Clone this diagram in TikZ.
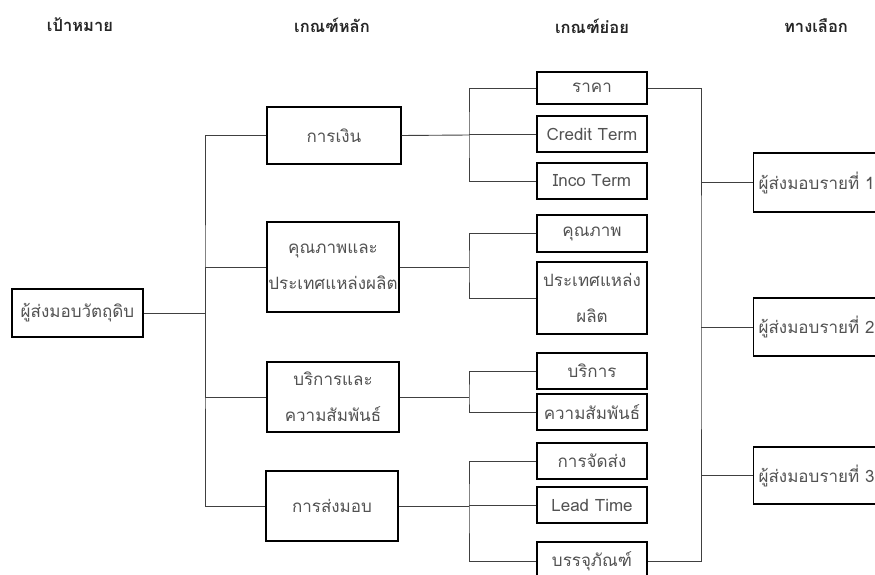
\documentclass[tikz,border=0pt]{standalone}
\usepackage{fontspec}
\setmainfont[Script=Thai]{Loma}
\begin{document}
\begin{tikzpicture}[x=1pt,y=-1pt,
  box/.style={draw=black, line width=1.3pt, text=black!68, inner sep=1pt, align=center,
    font=\fontsize{17}{36}\selectfont},
  head/.style={text=black!85, font=\bfseries\fontsize{16.5}{18}\selectfont},
  conn/.style={draw=black!75, line width=0.9pt}]
\useasboundingbox (0,0) rectangle (875,575);
\clip (0,0) rectangle (875,575);
% headings
\node[head] (h1) at (80,25) {เป้าหมาย};
\node[head] (h2) at (332,25) {เกณฑ์หลัก};
\node[head] (h3) at (592,26) {เกณฑ์ย่อย};
\node[head] (h4) at (816,26) {ทางเลือก};
% root
\node[box, minimum width=131, minimum height=48] (root) at (77.5,313) {ผู้ส่งมอบวัตถุดิบ};
% main criteria
\node[box, minimum width=134, minimum height=57] (m1) at (334,135.5) {การเงิน};
\node[box, minimum width=132, minimum height=90] (m2) at (333,267) {คุณภาพและ\\ประเทศแหล่งผลิต};
\node[box, minimum width=132, minimum height=70] (m3) at (333,397) {บริการและ\\ความสัมพันธ์};
\node[box, minimum width=132, minimum height=70] (m4) at (332,506) {การส่งมอบ};
% sub criteria
\node[box, minimum width=110, minimum height=32] (s1) at (592,88) {ราคา};
\node[box, minimum width=110, minimum height=36] (s2) at (592,134) {Credit Term};
\node[box, minimum width=110, minimum height=36] (s3) at (592,181) {Inco Term};
\node[box, minimum width=110, minimum height=37] (s4) at (592,233.5) {คุณภาพ};
\node[box, minimum width=110, minimum height=72] (s5) at (592,298) {ประเทศแหล่ง\\ผลิต};
\node[box, minimum width=110, minimum height=36] (s6) at (592,371) {บริการ};
\node[box, minimum width=110, minimum height=36] (s7) at (592,412) {ความสัมพันธ์};
\node[box, minimum width=110, minimum height=36] (s8) at (592,461) {การจัดส่ง};
\node[box, minimum width=110, minimum height=36] (s9) at (592,505) {Lead Time};
\node[box, minimum width=110, minimum height=38] (s10) at (592,561) {บรรจุภัณฑ์};
% alternatives
\node[box, anchor=west, minimum width=160, minimum height=59, text width=150, align=left, inner xsep=3pt] (a1) at (753,182.5) {ผู้ส่งมอบรายที่ 1};
\node[box, anchor=west, minimum width=160, minimum height=58, text width=150, align=left, inner xsep=3pt] (a2) at (753,327) {ผู้ส่งมอบรายที่ 2};
\node[box, anchor=west, minimum width=160, minimum height=57, text width=150, align=left, inner xsep=3pt] (a3) at (753,475.5) {ผู้ส่งมอบรายที่ 3};
% junction coordinates
\coordinate (j0) at (205,313);
\coordinate (jA) at (469,135);
\coordinate (jB) at (469,267);
\coordinate (jC) at (469,397);
\coordinate (jD) at (469,506);
\coordinate (R) at (701,300);
% root to main
\draw[conn] (root.east) -- (j0);
\draw[conn] (m1.west) -| (j0) |- (m4.west);
\draw[conn] (j0) |- (m2.west);
\draw[conn] (j0) |- (m3.west);
% main to sub
\draw[conn] (m1.east) -- (jA);
\draw[conn] (s1.west) -| (jA) |- (s3.west);
\draw[conn] (s2.west) -- (s2.west -| jA);
\draw[conn] (m2.east) -- (jB);
\draw[conn] (s4.west) -| (jB) |- (s5.west);
\draw[conn] (m3.east) -- (jC);
\draw[conn] (s6.west) -| (jC) |- (s7.west);
\draw[conn] (m4.east) -- (jD);
\draw[conn] (s8.west) -| (jD) |- (s10.west);
\draw[conn] (s9.west) -- (s9.west -| jD);
% sub to alternatives
\draw[conn] (s1.east) -| (R) |- (s10.east);
\draw[conn] (a1.west) -- (a1.west -| R);
\draw[conn] (a2.west) -- (a2.west -| R);
\draw[conn] (a3.west) -- (a3.west -| R);
\end{tikzpicture}
\end{document}
